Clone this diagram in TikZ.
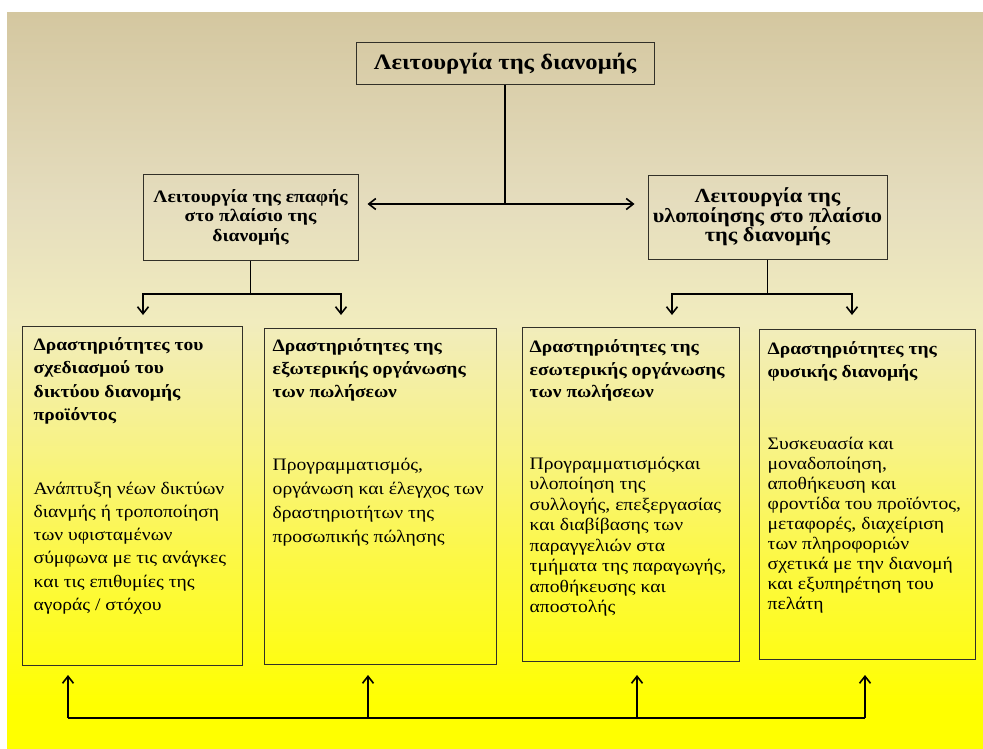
\documentclass[tikz,border=0pt]{standalone}
\usepackage{fontspec}
\setmainfont{Liberation Serif}[FakeStretch=1.12]
\usetikzlibrary{arrows.meta,positioning,calc}
\definecolor{bgtop}{RGB}{212,199,160}
\definecolor{bgpale}{RGB}{229,221,190}
\definecolor{bgcream}{RGB}{241,236,190}
\definecolor{bglight}{RGB}{248,243,130}
\definecolor{bgmid}{RGB}{252,248,70}
\definecolor{bgyel}{RGB}{255,255,0}
\definecolor{frame}{RGB}{50,48,40}
\pgfdeclareverticalshading{bgfade}{100bp}{color(0bp)=(bgyel); color(28bp)=(bgyel);
  color(38bp)=(bgmid); color(45bp)=(bglight); color(54bp)=(bgcream);
  color(62bp)=(bgpale); color(75bp)=(bgtop); color(100bp)=(bgtop)}

\begin{document}
\begin{tikzpicture}[
    x=1bp, y=-1bp,
    box/.style={draw=frame, line width=1bp, inner sep=0pt},
    toptitle/.style={box, font=\bfseries\fontsize{22bp}{24bp}\selectfont},
    midtitle/.style={box, align=center, font=\bfseries\fontsize{#1}{19.5bp}\selectfont},
    midtitle/.default=17.5bp,
    headtxt/.style={anchor=north west, inner sep=0pt, align=left,
      font=\bfseries\fontsize{17.4bp}{#1}\selectfont},
    headtxt/.default=23.3bp,
    bodytxt/.style={anchor=north west, inner sep=0pt, align=left,
      font=\fontsize{17.5bp}{#1}\selectfont},
    bodytxt/.default=23.3bp,
    link/.style={line width=1.6bp, color=black},
    arrow/.style={link, -{Straight Barb[length=7bp,width=11bp,line width=1.6bp]}}
  ]
    % Background
    \fill[white] (0,0) rectangle (983,749);
    \useasboundingbox (0,0) rectangle (983,749);
    \shade[shading=bgfade] (7,13) rectangle (983,749);

    % Row 1: Top
    \node[toptitle, minimum width=298bp, minimum height=41bp] (root) at (505,63.5)
      {Λειτουργία της διανομής};

    % Row 2: Functions
    \node[midtitle, minimum width=215bp, minimum height=86bp] (contact) at (250.5,217)
      {Λειτουργία της επαφής\\στο πλαίσιο της\\διανομής};
    \node[midtitle=20bp, minimum width=239bp, minimum height=84bp] (fulfil) at (767.5,217)
      {Λειτουργία της\\υλοποίησης στο πλαίσιο\\της διανομής};

    % Row 3: Activities
    \node[box, minimum width=219bp, minimum height=339bp] (design) at (132.5,495.5) {};
    \node[box, minimum width=232bp, minimum height=336bp] (extorg) at (380,496) {};
    \node[box, minimum width=217bp, minimum height=334bp] (intorg) at (630.5,494) {};
    \node[box, minimum width=216bp, minimum height=330bp] (physical) at (867,494) {};

    % Texts of the activities
    \node[headtxt, below right=12bp and 11bp of design.north west] (designHead)
      {Δραστηριότητες του\\σχεδιασμού του\\δικτύου διανομής\\προϊόντος};
    \node[bodytxt, below right=156bp and 11bp of design.north west] (designBody)
      {Ανάπτυξη νέων δικτύων\\διανμής ή τροποποίηση\\των υφισταμένων\\σύμφωνα με τις ανάγκες\\και τις επιθυμίες της\\αγοράς / στόχου};

    \node[headtxt=23bp, below right=11bp and 9bp of extorg.north west] (extorgHead)
      {Δραστηριότητες της\\εξωτερικής οργάνωσης\\των πωλήσεων};
    \node[bodytxt=24bp, below right=130bp and 9bp of extorg.north west] (extorgBody)
      {Προγραμματισμός,\\οργάνωση και έλεγχος των\\δραστηριοτήτων της\\προσωπικής πώλησης};

    \node[headtxt=22.5bp, below right=13bp and 8bp of intorg.north west] (intorgHead)
      {Δραστηριότητες της\\εσωτερικής οργάνωσης\\των πωλήσεων};
    \node[bodytxt=20.5bp, below right=130bp and 8bp of intorg.north west] (intorgBody)
      {Προγραμματισμόςκαι\\υλοποίηση της\\συλλογής, επεξεργασίας\\και διαβίβασης των\\παραγγελιών στα\\τμήματα της παραγωγής,\\αποθήκευσης και\\αποστολής};

    \node[headtxt=23bp, below right=13bp and 9bp of physical.north west] (physicalHead)
      {Δραστηριότητες της\\φυσικής διανομής};
    \node[bodytxt=20bp, below right=108bp and 9bp of physical.north west] (physicalBody)
      {Συσκευασία και\\μοναδοποίηση,\\αποθήκευση και\\φροντίδα του προϊόντος,\\μεταφορές, διαχείριση\\των πληροφοριών\\σχετικά με την διανομή\\και εξυπηρέτηση του\\πελάτη};

    % Arrows: top to functions
    \coordinate (hub) at (root.south |- 0,204);
    \draw[link] (root.south) -- (hub);
    \draw[arrow, shorten >=9bp] (hub) -- (hub -| contact.east);
    \draw[arrow, shorten >=13bp] (hub) -- (hub -| fulfil.west);

    % Arrows: functions to activities
    \coordinate (designIn) at (143,315);
    \coordinate (extorgIn) at (341,315);
    \coordinate (intorgIn) at (672,315);
    \coordinate (physicalIn) at (852,315);
    \draw[link] (contact.south) -- (contact.south |- 0,294) coordinate (contactFork);
    \draw[arrow] (contactFork) -| (designIn);
    \draw[arrow] (contactFork) -| (extorgIn);
    \draw[link] (fulfil.south) -- (fulfil.south |- 0,294) coordinate (fulfilFork);
    \draw[arrow] (fulfilFork) -| (intorgIn);
    \draw[arrow] (fulfilFork) -| (physicalIn);

    % Arrows: feedback line at the bottom
    \coordinate (designOut) at (68,675);
    \coordinate (extorgOut) at (368,675);
    \coordinate (intorgOut) at (637,675);
    \coordinate (physicalOut) at (865,675);
    \draw[link] (designOut |- 0,718) -- (physicalOut |- 0,718);
    \foreach \t in {designOut,extorgOut,intorgOut,physicalOut}
      \draw[arrow] (\t |- 0,718) -- (\t);
\end{tikzpicture}
\end{document}
